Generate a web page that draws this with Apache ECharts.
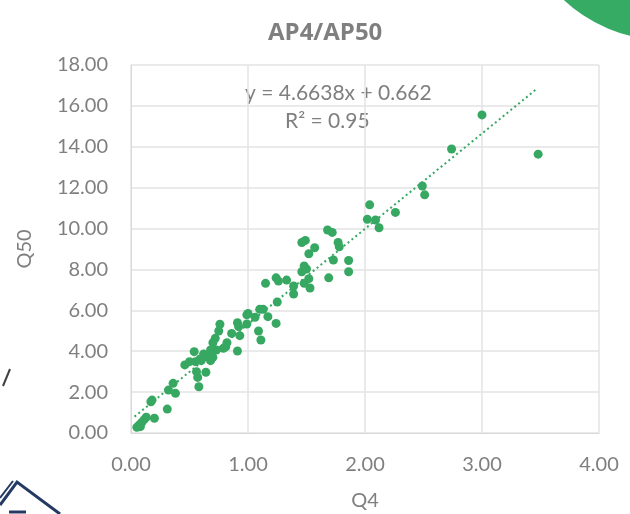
<!DOCTYPE html>
<html>
<head>
<meta charset="utf-8">
<script src="https://cdn.jsdelivr.net/npm/echarts@6/dist/echarts.min.js"></script>
<style>
  html, body { margin: 0; padding: 0; background: #fff; }
  #main { width: 630px; height: 514px; }
</style>
</head>
<body>
<div id="main"></div>
<script>
// Q4 / Q50 pairs
const q4 = [
  3.00, 3.48, 2.74, 2.49, 2.51, 2.04, 2.02, 2.09, 2.12, 2.26,
  1.68, 1.72, 1.46, 1.49, 1.77, 1.78, 1.57, 1.52, 1.73, 1.86,
  1.86, 1.48, 1.46, 1.50, 1.69, 1.52, 1.48, 1.53, 1.39, 1.39,
  1.33, 1.24, 1.26, 1.15, 1.25, 1.13, 1.24, 1.17, 1.10, 1.06,
  1.00, 0.99, 0.99, 1.09, 1.11, 0.91, 0.92, 0.86, 0.93, 0.91,
  0.76, 0.75, 0.72, 0.70, 0.82, 0.81, 0.79, 0.68, 0.73, 0.54,
  0.62, 0.65, 0.70, 0.68, 0.60, 0.55, 0.50, 0.46, 0.56, 0.64,
  0.57, 0.58, 0.36, 0.32, 0.38, 0.18, 0.17, 0.31, 0.20, 0.13,
  0.11, 0.09, 0.07, 0.05, 0.08, 0.59, 0.66
];
const q50 = [
  15.56, 13.64, 13.89, 12.08, 11.65, 11.16, 10.45, 10.42, 10.04, 10.79,
  9.93, 9.81, 9.32, 9.42, 9.32, 9.11, 9.06, 8.77, 8.46, 8.44,
  7.89, 8.17, 7.89, 8.02, 7.59, 7.55, 7.32, 7.09, 7.19, 6.80,
  7.48, 7.59, 7.43, 7.32, 6.41, 6.05, 5.36, 5.69, 6.05, 5.66,
  5.85, 5.78, 5.33, 4.99, 4.55, 5.39, 5.20, 4.87, 4.76, 4.01,
  5.32, 4.99, 4.63, 4.42, 4.42, 4.22, 4.14, 4.06, 4.06, 3.98,
  3.86, 3.73, 3.70, 3.54, 3.54, 3.49, 3.49, 3.33, 3.00, 2.97,
  2.72, 2.26, 2.43, 2.10, 1.94, 1.61, 1.53, 1.17, 0.72, 0.77,
  0.64, 0.50, 0.39, 0.28, 0.31, 3.62, 3.80
];
// linear trendline endpoints (y = 4.6638x + 0.662)
const trendX = [0.03, 3.47];
const trendY = [0.80, 16.84];

const xTicks = ['0.00', '1.00', '2.00', '3.00', '4.00'];

const green = '#37a862';
const grey = '#7f7f7f';
const font = 'Lato, "Open Sans", sans-serif';

const chart = echarts.init(document.getElementById('main'), null, { renderer: 'canvas' });

const option = {
  backgroundColor: '#fff',
  animation: false,
  title: {
    text: 'AP4/AP50',
    left: 263,
    top: 16,
    textStyle: { color: grey, fontSize: 24, fontWeight: 'bold', fontFamily: '"Open Sans", sans-serif' }
  },
  grid: { left: 131, right: 31, top: 65, bottom: 81, outerBoundsMode: 'none' },
  xAxis: {
    type: 'value',
    min: 0,
    max: 4,
    interval: 1,
    name: 'Q4',
    nameLocation: 'middle',
    nameGap: 58,
    nameTextStyle: { color: grey, fontSize: 20, fontFamily: font },
    axisLine: { show: true, lineStyle: { color: '#d9d9d9' } },
    axisTick: { show: false },
    axisLabel: { color: grey, fontSize: 20, fontFamily: font, margin: 22,
      formatter: v => xTicks[Math.round(v)] },
    splitLine: { show: true, lineStyle: { color: '#e3e3e3', width: 1.5 } }
  },
  yAxis: {
    type: 'value',
    min: 0,
    max: 18,
    interval: 2,
    name: 'Q50',
    nameLocation: 'middle',
    nameGap: 96,
    nameTextStyle: { color: grey, fontSize: 20, fontFamily: font },
    axisLine: { show: true, lineStyle: { color: '#d9d9d9' } },
    axisTick: { show: false },
    axisLabel: { color: grey, fontSize: 20, fontFamily: font, margin: 23,
      formatter: v => v.toFixed(2) },
    splitLine: { show: true, lineStyle: { color: '#e3e3e3', width: 1.5 } }
  },
  series: [
    {
      name: 'trend',
      type: 'line',
      data: trendX.map((x, i) => [x, trendY[i]]),
      showSymbol: false,
      silent: true,
      lineStyle: { color: green, width: 2, type: [2, 3] },
      z: 3
    },
    {
      name: 'Q50',
      type: 'scatter',
      data: q4.map((x, i) => [x, q50[i]]),
      symbolSize: 9,
      itemStyle: { color: green, opacity: 1 },
      z: 4
    }
  ],
  graphic: [
    {
      type: 'text',
      left: 245, top: 83,
      style: { text: 'y = 4.6638x + 0.662', fill: grey, font: '21px ' + font }
    },
    {
      type: 'text',
      left: 285, top: 111,
      style: { text: 'R² = 0.95', fill: grey, font: '21px ' + font }
    },
    // green blob top-right
    {
      type: 'circle',
      shape: { cx: 665, cy: -108, r: 148 },
      style: { fill: '#35ab64' }
    },
    // clipped slash at left
    {
      type: 'line',
      shape: { x1: 10, y1: 369, x2: 3, y2: 386 },
      style: { stroke: '#404040', lineWidth: 2 }
    },
    // house icon bottom-left
    {
      type: 'polyline',
      shape: { points: [[0, 505], [17, 482], [60, 514]] },
      style: { stroke: '#253a63', lineWidth: 3, fill: null }
    },
    {
      type: 'line',
      shape: { x1: 0, y1: 498, x2: 13, y2: 481 },
      style: { stroke: '#253a63', lineWidth: 2 }
    },
    {
      type: 'line',
      shape: { x1: 9, y1: 512, x2: 26, y2: 512 },
      style: { stroke: '#253a63', lineWidth: 3 }
    }
  ]
};

chart.setOption(option);
</script>
</body>
</html>
